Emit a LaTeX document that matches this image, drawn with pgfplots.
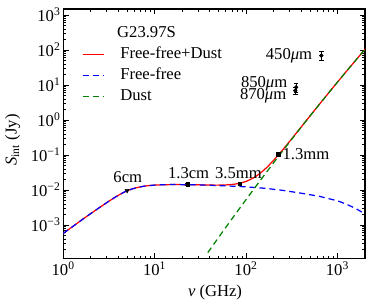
\documentclass[border=0pt]{standalone}
\usepackage{fontspec}
\setmainfont{Liberation Serif}
\usepackage{pgfplots}
\pgfplotsset{compat=1.18}
\definecolor{mplred}{RGB}{255,0,0}
\definecolor{mplblue}{RGB}{0,0,255}
\definecolor{mplgreen}{RGB}{0,128,0}
\begin{document}
\fontsize{10.8}{13}\selectfont
\begin{tikzpicture}[font=\fontsize{10.8}{13}\selectfont]
\begin{loglogaxis}[
  scale only axis, width=196.1pt, height=162pt,
  xmin=1, xmax=2000, ymin=1.12e-4, ymax=1480,
  xtick={1,10,100,1000},
  xticklabels={10\textsuperscript{0},10\textsuperscript{1},10\textsuperscript{2},10\textsuperscript{3}},
  ytick={1e-3,1e-2,1e-1,1,10,100,1000},
  yticklabels={10\textsuperscript{−3},10\textsuperscript{−2},10\textsuperscript{−1},10\textsuperscript{0},10\textsuperscript{1},10\textsuperscript{2},10\textsuperscript{3}},
  minor xtick={2,3,4,5,6,7,8,9,20,30,40,50,60,70,80,90,200,300,400,500,600,700,800,900},
  minor ytick={2e-4,3e-4,4e-4,5e-4,6e-4,7e-4,8e-4,9e-4,2e-3,3e-3,4e-3,5e-3,6e-3,7e-3,8e-3,9e-3,0.02,0.03,0.04,0.05,0.06,0.07,0.08,0.09,0.2,0.3,0.4,0.5,0.6,0.7,0.8,0.9,2,3,4,5,6,7,8,9,20,30,40,50,60,70,80,90,200,300,400,500,600,700,800,900},
  tick align=inside,
  major tick length=3.5pt, minor tick length=1.8pt,
  every tick/.style={black, line width=0.5pt},
  axis line style={line width=0.7pt},
  tick label style={font=\fontsize{10.8}{13}\selectfont},
  label style={font=\fontsize{10.8}{13}\selectfont},
  xticklabel style={inner sep=2pt},
  yticklabel style={inner sep=1.5pt},
  xlabel={{\itshape ν} (GHz)},
  ylabel={{\itshape S}\textsubscript{int} (Jy)},
  xlabel style={at={(axis description cs:0.503,-0.138)}, anchor=center},
  ylabel style={at={(axis description cs:-0.168,0.4745)}, anchor=center},
  legend image code/.code={\draw[#1] (0pt,0pt) -- (14pt,0pt); \path[draw=none, fill=none] (0pt,0pt) rectangle (24.5pt,0pt);},
  legend style={draw=none, fill=none, inner sep=0pt,
    at={(axis description cs:0.061,0.848)}, anchor=north west,
    cells={anchor=west}, row sep=4.2pt,
    font=\fontsize{10.8}{13}\selectfont,
    nodes={inner sep=0pt, text height=7.5pt, text depth=2pt}},
]
% Free-free + Dust
\addplot[mplred, line width=0.8pt, smooth, tension=0.4] coordinates {
(1,5.75e-4) (1.259,8.91e-4) (1.585,1.380e-3) (1.995,2.113e-3) (2.512,3.199e-3)
(3.162,4.786e-3) (3.981,6.998e-3) (5.012,9.550e-3) (6.310,1.161e-2) (7.943,1.303e-2)
(10,1.380e-2) (12.59,1.413e-2) (15.85,1.429e-2) (25.12,1.417e-2) (39.81,1.384e-2)
(50.12,1.379e-2) (63.10,1.406e-2) (79.43,1.503e-2) (100,1.763e-2) (125.9,2.377e-2)
(158.5,3.801e-2) (199.5,6.976e-2) (251.2,0.1398) (316.2,0.2914) (398.1,0.6176)
(501.2,1.310) (631.0,2.768) (794.3,5.800) (1000,12.085) (1259,24.954) (1585,51.053) (2042,110.9)
};
\addlegendentry{Free-free+Dust}
% Free-free
\addplot[mplblue, line width=0.8pt, dash pattern=on 3.9pt off 2.6pt, smooth, tension=0.4] coordinates {
(1,5.75e-4) (1.259,8.91e-4) (1.585,1.380e-3) (1.995,2.113e-3) (2.512,3.199e-3)
(3.162,4.786e-3) (3.981,6.998e-3) (5.012,9.550e-3) (6.310,1.161e-2) (7.943,1.303e-2)
(10,1.380e-2) (12.59,1.413e-2) (15.85,1.429e-2) (25.12,1.413e-2) (39.81,1.365e-2)
(50.12,1.334e-2) (63.10,1.303e-2) (79.43,1.268e-2) (100,1.230e-2) (125.9,1.175e-2)
(158.5,1.122e-2) (199.5,1.047e-2) (251.2,9.77e-3) (316.2,8.91e-3) (398.1,8.13e-3)
(501.2,7.33e-3) (631.0,6.61e-3) (794.3,5.69e-3) (1000,4.90e-3) (1259,3.89e-3)
(1585,2.95e-3) (2042,2.00e-3)
};
\addlegendentry{Free-free}
% Dust
\addplot[mplgreen, line width=0.8pt, dash pattern=on 3.9pt off 2.6pt, smooth, tension=0.4] coordinates {
(38.1,1.622e-4) (50.12,4.446e-4) (63.10,1.026e-3) (79.43,2.350e-3) (100,5.333e-3)
(125.9,1.202e-2) (158.5,2.679e-2) (199.5,5.929e-2) (251.2,0.1300) (316.2,0.2825)
(398.1,0.6095) (501.2,1.303) (631.0,2.761) (794.3,5.794) (1000,12.08) (1259,24.95)
(1585,51.05) (2042,110.9)
};
\addlegendentry{Dust}
% observed points
\addplot[forget plot, only marks, black, mark=triangle*, mark size=1.5pt, mark options={rotate=180}]
 coordinates {(5.0,9.7e-3)};
\addplot[forget plot, only marks, black, mark=square*, mark size=1.15pt,
  error bars/.cd, y dir=both, y explicit,
  error bar style={black, line width=0.6pt},
  error mark options={rotate=90, mark size=1.5pt, black, line width=0.6pt}]
 coordinates {(23.0,1.45e-2) +- (0,0.0011) (85.7,1.52e-2) +- (0,0.0012) (225,0.105) +- (0,0.011)};
\addplot[forget plot, only marks, black, mark=*, mark size=1.2pt,
  error bars/.cd, y dir=both, y explicit,
  error bar style={black, line width=0.6pt},
  error mark options={rotate=90, mark size=1.5pt, black, line width=0.6pt}]
 coordinates {(666,69) +- (0,20) (353,8.6) +- (0,2.4) (345,6.9) +- (0,1.4)};
% labels
\node at (axis cs:5.08,0.0236) {6cm};
\node at (axis cs:23.5,0.0306) {1.3cm};
\node at (axis cs:82.4,0.0306) {3.5mm};
\node[anchor=west, inner sep=0pt] at (axis cs:249,0.107) {1.3mm};
\node[anchor=east, inner sep=0pt] at (axis cs:532,67.4) {450{\itshape μ}m};
\node[anchor=east, inner sep=0pt] at (axis cs:284,10.9) {850{\itshape μ}m};
\node[anchor=east, inner sep=0pt] at (axis cs:277,5.0) {870{\itshape μ}m};
\node at (axis description cs:0.276,0.906) {G23.97S};
\end{loglogaxis}
\pgfresetboundingbox
\path ([shift={(-41.1pt,-31pt)}]current axis.south west) rectangle ([shift={(5.85pt,5.85pt)}]current axis.north east);
\end{tikzpicture}
\end{document}
